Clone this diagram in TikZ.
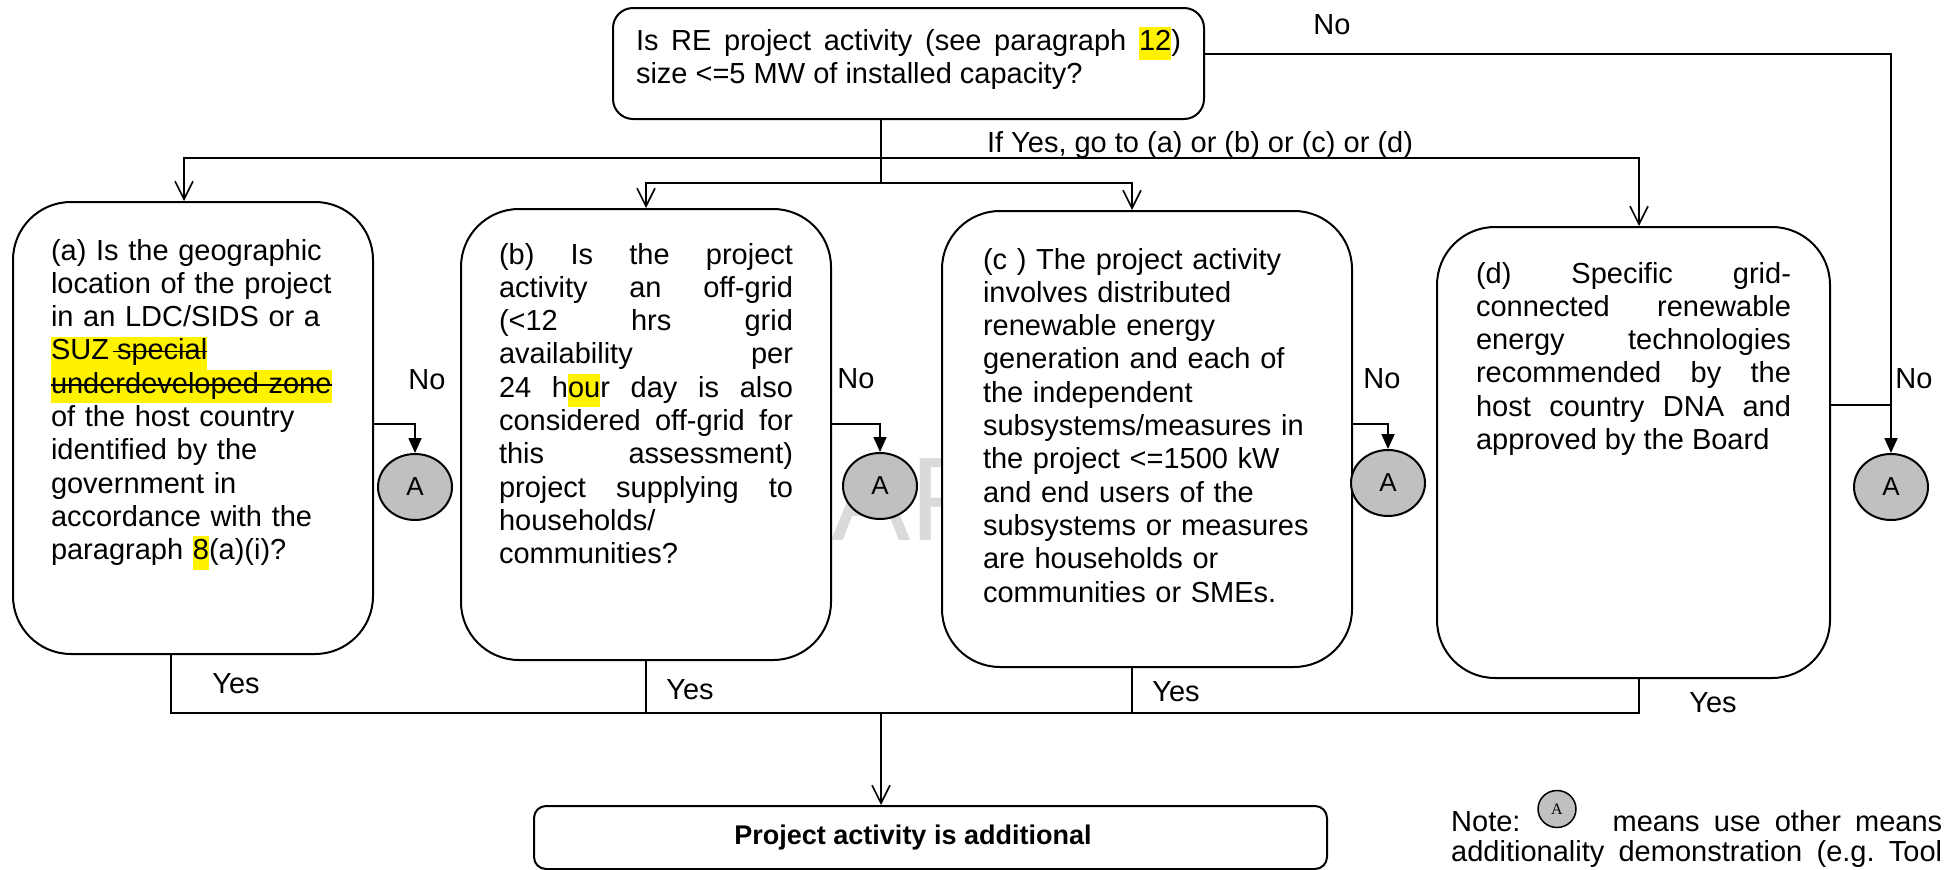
\documentclass[tikz,border=0pt]{standalone}
\usepackage{fontspec}
\setmainfont{Liberation Sans}
\newfontfamily\notefont{Liberation Serif}
\usetikzlibrary{shapes.geometric,arrows.meta}
\definecolor{markgray}{RGB}{192,192,192}
\definecolor{wmgray}{RGB}{218,218,218}
\newsavebox\strikebox
\newcommand\hlite[1]{{\setlength{\fboxsep}{0pt}\colorbox{yellow}{\strut #1}}}
\newcommand\strikeout[1]{\sbox\strikebox{#1}\rlap{\rule[0.26em]{\wd\strikebox}{1.6pt}}\usebox\strikebox}
\hyphenpenalty=10000 \exhyphenpenalty=10000 \tolerance=9999 \hbadness=10000

\begin{document}
\begin{tikzpicture}[x=1pt, y=-1pt,
    every node/.style={font=\fontsize{29}{33.3}\selectfont},
    question/.style={rectangle, draw, line width=2pt, fill=white, rounded corners=58pt, anchor=north west, inner ysep=0pt},
    amark/.style={ellipse, draw, line width=2pt, fill=markgray, minimum width=74pt, minimum height=66pt, inner sep=0pt, font=\fontsize{26}{30}\selectfont},
    bus/.style={line width=2.2pt},
    flow/.style={line width=1.8pt, -{Straight Barb[length=18pt, width=18pt, line width=1.6pt]}},
    noflow/.style={line width=1.8pt, -{Triangle[length=15pt, width=13pt]}}
]
    \useasboundingbox (0,0) rectangle (1949,870);

    % watermark, mostly hidden by the boxes
    \node[font=\fontsize{119}{130}\selectfont, text=wmgray, anchor=base west, inner sep=0pt] (wm) at (659,540) {DRAFT};

    \node[question, rounded corners=20pt, text width=545pt, inner xsep=23pt, text height=42pt, text depth=69pt, align=justify] (qtop) at (612,7)
        {Is RE project activity (see paragraph \hlite{12})\linebreak size <=5 MW of installed capacity?};

    \node[question, text width=284pt, inner xsep=38pt, text height=58pt, text depth=394pt, align=left] (qa) at (12,201)
        {(a) Is the geographic\\ location of the project\\ in an LDC/SIDS or a\\ \hlite{SUZ\hspace{4pt}\strikeout{\hspace{4pt}special}}\\ \hlite{\strikeout{underdeveloped zone}}\\ of the host country\\ identified by the\\ government in\\ accordance with the\\ paragraph \hlite{8}(a)(i)?};
    \node[question, text width=294pt, inner xsep=38pt, text height=55pt, text depth=396pt, align=justify] (qb) at (460,208)
        {(b) Is the project\linebreak activity an off-grid\linebreak (<12 hrs grid\linebreak availability per\linebreak 24~h\hlite{ou}r day is also\linebreak considered off-grid for\linebreak this assessment)\linebreak project supplying to\linebreak households/\\ communities?};
    \node[question, text width=328pt, inner xsep=41pt, text height=58pt, text depth=398pt, align=left] (qc) at (941,210)
        {(c ) The project activity\\ involves distributed\\ renewable energy\\ generation and each of\\ the independent\\ subsystems/measures in\\ the project <=1500 kW\\ and end users of the\\ subsystems or measures\\ are households or\\ communities or SMEs.};
    \node[question, text width=315pt, inner xsep=39pt, text height=56pt, text depth=395pt, align=justify] (qd) at (1436,226)
        {(d) Specific grid-\linebreak connected renewable\linebreak energy technologies\linebreak recommended by the\linebreak host country DNA and\linebreak approved by the Board};

    \node[question, rounded corners=12pt, minimum width=793pt, minimum height=63pt, font=\bfseries\fontsize{27}{31}\selectfont] (qend) at (533,805) {Project activity is additional\hspace*{35pt}};

    \node[amark] (Aa) at (415,487) {A};
    \node[amark] (Ab) at (880,486) {A};
    \node[amark] (Ac) at (1388,483) {A};
    \node[amark] (Ad) at (1891,487) {A};

    \coordinate (topfork) at (881,158);
    \coordinate (midfork) at (881,183);
    \coordinate (botfork) at (881,713);
    \coordinate (djoin) at (1891,405);

    % yes branches from the size question
    \draw[bus] (qtop.south -| topfork) -- (midfork);
    \draw[flow] (topfork) -| ([xshift=-9pt]qa.north);
    \draw[flow] (topfork) -| ([xshift=5.5pt]qd.north);
    \draw[flow] (midfork) -| (qb.north);
    \draw[flow] (midfork) -| ([xshift=-15pt]qc.north);
    \node (ifyes) at (1200,145) {If Yes, go to (a) or (b) or (c) or (d)};

    % no branches
    \draw[noflow] ([yshift=9.5pt]qtop.east) -| (Ad.north);
    \draw[bus] (qd.east |- djoin) -- (djoin);
    \draw[noflow] (qa.east |- 0,424) -| (Aa.north);
    \draw[noflow] (qb.east |- 0,424) -| (Ab.north);
    \draw[noflow] (qc.east |- 0,424) -| (Ac.north);
    \node (notop) at (1332,25) {No};
    \node (noa) at (427,380) {No};
    \node (nob) at (856,379) {No};
    \node (noc) at (1382,379) {No};
    \node (nod) at (1914,379) {No};

    % yes branches to the result
    \draw[bus] ([xshift=-22pt]qa.south) |- (botfork) -| ([xshift=5.5pt]qd.south);
    \draw[bus] (qb.south) -- (qb.south |- botfork);
    \draw[bus] ([xshift=-15pt]qc.south) -- ([xshift=-15pt]qc.south |- botfork);
    \draw[flow] (botfork) -- (botfork |- qend.north);
    \node (yesa) at (236,684) {Yes};
    \node (yesb) at (690,690) {Yes};
    \node (yesc) at (1176,692) {Yes};
    \node (yesd) at (1713,703) {Yes};

    % note
    \node[anchor=base west, inner sep=0pt, text width=491pt, align=justify, font=\fontsize{29}{30}\selectfont] (note) at (1451,831)
        {Note: \hspace*{55pt} means use other means\linebreak additionality\hfill demonstration\hfill (e.g.\hfill Tool};
    \node[amark, minimum width=38pt, minimum height=37pt, line width=1.5pt, font=\notefont\fontsize{16}{18}\selectfont] (Anote) at (1557,809) {A};
\end{tikzpicture}
\end{document}
